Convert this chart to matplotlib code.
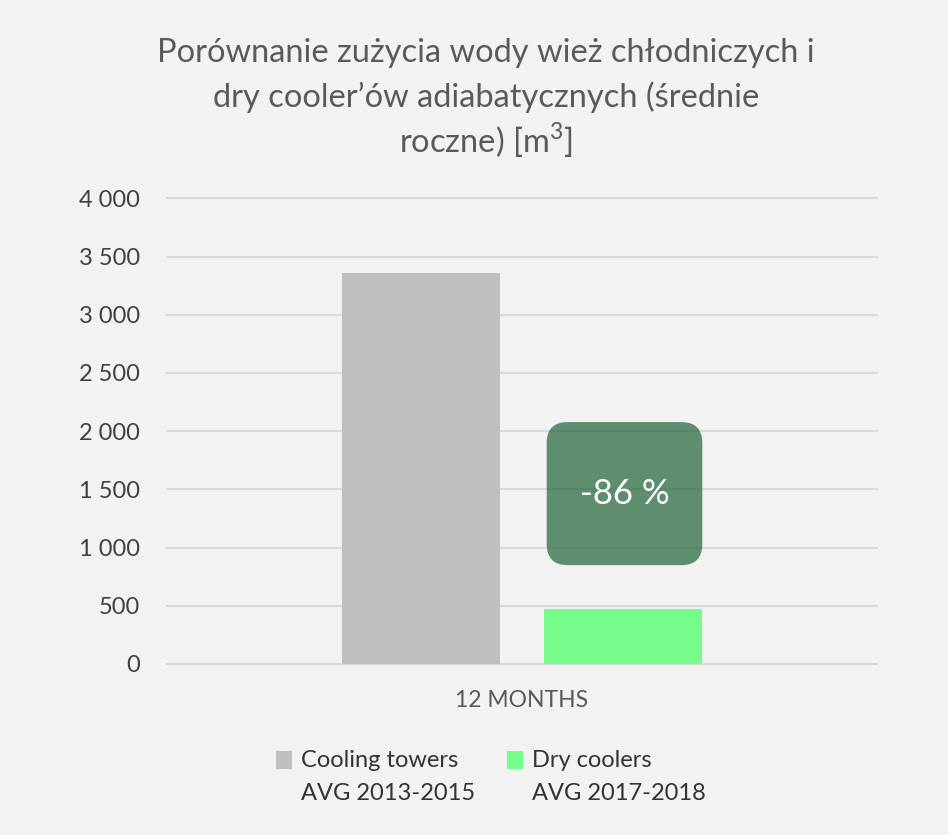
import matplotlib.pyplot as plt
from matplotlib.patches import FancyBboxPatch, Rectangle
from matplotlib.transforms import IdentityTransform

plt.rcParams['font.family'] = ['Lato', 'DejaVu Sans']
plt.rcParams['mathtext.fontset'] = 'custom'
plt.rcParams['mathtext.rm'] = 'Lato'

# data
category = ['12 MONTHS']
series = ['Cooling towers', 'Dry coolers']
periods = ['AVG 2013-2015', 'AVG 2017-2018']
values = [3360, 475]
colors = ['#bfbfbf', '#77fd8c']
reduction = '-86 %'
yticks = [0, 500, 1000, 1500, 2000, 2500, 3000, 3500, 4000]
ytick_labels = ['0', '500', '1 000', '1 500', '2 000', '2 500', '3 000', '3 500', '4 000']
title_lines = ['Porównanie zużycia wody wież chłodniczych i',
               'dry cooler’ów adiabatycznych (średnie',
               r'roczne) [m$^\mathrm{3}$]']

W, H = 948, 835
bg = '#f2f2f2'
fig = plt.figure(figsize=(W / 100, H / 100), dpi=100, facecolor=bg)
ax = fig.add_axes([166.7 / W, (H - 664) / H, 710.6 / W, (664 - 198.3) / H])
ax.set_facecolor(bg)

bar_w = 0.2225
offsets = [-0.1425, 0.1425]
for off, v, c in zip(offsets, values, colors):
    ax.bar(off, v, bar_w, color=c, zorder=2)

ax.set_xlim(-0.5, 0.5)
ax.set_ylim(0, 4000)
ax.set_yticks(yticks)
ax.set_yticklabels(ytick_labels)
ax.set_xticks([0])
ax.set_xticklabels(category)
ax.yaxis.grid(True, color='#d9d9d9', lw=1.5)
ax.set_axisbelow(True)
for ln in ax.get_ygridlines():
    ln.set_clip_on(False)
for s in ax.spines.values():
    s.set_visible(False)
ax.tick_params(axis='y', length=0, pad=19, labelsize=17, labelcolor='#404040')
ax.tick_params(axis='x', length=0, pad=19, labelsize=16.5, labelcolor='#595959')

# rounded box with the reduction, right edge lined up with the second bar
bx1 = offsets[1] + bar_w / 2
bx0 = bx1 - 0.219
(px0, py0) = ax.transData.transform((bx0, 849))
(px1, py1) = ax.transData.transform((bx1, 2078))
box = FancyBboxPatch((px0, py0), px1 - px0, py1 - py0,
                     boxstyle='round,pad=0,rounding_size=21',
                     transform=IdentityTransform(), facecolor='#2e6b43',
                     edgecolor='none', alpha=0.75, zorder=3)
ax.add_patch(box)
ax.text((bx0 + bx1) / 2, (849 + 2078) / 2, reduction, color='white',
        fontsize=25, ha='center', va='center', zorder=4)

# title
for i, t in enumerate(title_lines):
    fig.text(486 / W, 1 - (61.7 + 45.7 * i) / H, t, ha='center', va='baseline',
             fontsize=23.5, color='#5a5a5a')

# legend
leg_x = [276, 507]
for x, name, per, c in zip(leg_x, series, periods, colors):
    fig.patches.append(Rectangle((x / W, 1 - 769 / H), 16 / W, 18 / H,
                                 transform=fig.transFigure, facecolor=c,
                                 edgecolor='none'))
    fig.text((x + 25) / W, 1 - 767 / H, name, va='baseline', fontsize=17,
             color='#333333')
    fig.text((x + 25) / W, 1 - 800 / H, per, va='baseline', fontsize=17,
             color='#333333')

fig.savefig('out.png', dpi=100, facecolor=bg)
